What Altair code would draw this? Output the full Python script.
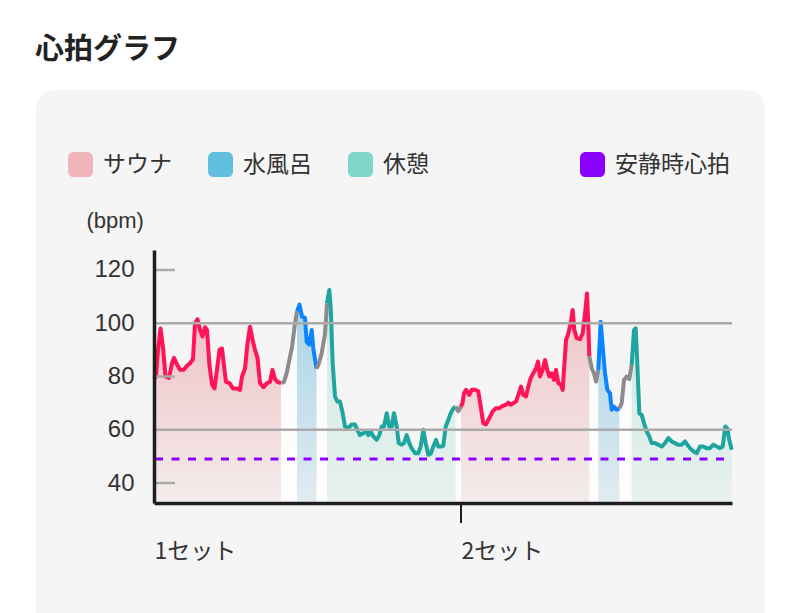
import altair as alt
import pandas as pd

# ---- data -----------------------------------------------------------------
# elapsed time (arbitrary units) and heart rate samples, in order
time_t = [
    0, 2, 4, 6.5, 9, 11.5, 15, 18, 20, 23, 26, 29.5, 33, 36, 39, 41, 43.5, 46, 48.5, 51,
    53, 55.5, 58, 60.5, 63, 65.5, 68, 70, 72, 75.5, 79, 83, 86, 88, 91, 93.5, 96, 98.5,
    101, 103.5, 106, 109.5, 113, 116, 118.5, 121, 123.5, 127,
    130, 132.5, 135, 138, 141, 143,
    145.5, 148, 151, 152.7, 155.3, 157.7, 159.3, 162.5,
    164.5, 167.7, 171, 173,
    175.3, 176.7, 178.7, 181, 183.3, 186, 188.7, 191, 194.3, 197.7, 201, 203.3, 206, 209.3,
    212, 214.3, 216.7, 219.3, 222.7, 225.3, 227.7, 230, 232.7, 235.3, 237.7, 240, 242.7,
    244.7, 247.7, 250, 252.7, 255.3, 257.7, 261, 264.3, 266.7, 269.3, 271.7, 274.3, 276.7,
    279.3, 282, 284.3, 286.7, 289.3, 291.7, 294.3, 296.7, 299.3, 301.5,
    304.3, 307,
    308.5, 310, 312, 315.3, 317.7, 321, 324.3, 326.7, 329.3, 332, 335.3, 338.7, 342, 345.3,
    348.7, 352, 354.3, 356.7, 359.3, 362, 364.3, 367, 369.3, 372, 374.3, 376.7, 379.3, 382,
    384, 386, 388.7, 391, 393.3, 395.3, 397.7, 400, 402, 404.3, 406.7, 408.7, 410, 412,
    414.3, 416.7, 418.7, 420.3, 422.7, 426, 428.7, 431, 433, 434.5, 435.3,
    437.7, 440, 442, 444.3,
    446.7, 448.7, 451, 453.3, 456, 457.7, 460, 462.7, 465.3,
    467.7, 470, 472.7, 475.3, 477.7,
    480, 481.7, 483.3, 485.3, 487.7, 490, 492.7, 495.3, 497.7, 501, 504.3, 507.7, 511,
    514.3, 517.7, 521, 524.3, 527.7, 531, 533.3, 536, 539.3, 542.7, 546, 549.3, 552.7,
    556, 559.3, 562.7, 566, 568.7, 571.3, 573.3, 575.3, 577.7,
]
bpm = [
    79, 80, 90, 98, 91, 80, 79.5, 85, 87, 84.5, 82.5, 82.5, 84, 85, 86.5, 100, 101.5, 97.5, 95, 98.5,
    97.5, 84, 77, 75.5, 82.5, 90, 90.5, 84, 78, 77.5, 75.5, 75.5, 75, 80, 83, 92.5, 98.7, 94,
    90, 87, 77.5, 76, 77.5, 78, 82.5, 79, 78, 77.5,
    78, 81, 85.5, 91, 100, 104.5,
    107, 102.5, 102, 93, 92, 97.5, 90.5, 83,
    84.5, 88.7, 96, 107.5,
    112.5, 106, 85, 72.5, 70.6, 70.6, 66.2, 61.2, 60.6, 62, 62, 60, 58, 58.7,
    59.4, 58, 59.4, 57.5, 56.2, 58, 61.2, 61.2, 66.2, 61.2, 61.2, 66.2, 61.2,
    55, 54.4, 55, 58, 55, 53, 51.2, 51.2, 53.7, 60, 55, 50.6, 51,
    53.7, 56.2, 53.7, 53.7, 54, 61.2, 63.7, 66.2, 68, 68.7,
    67, 68.7,
    70, 73.7, 75, 73.1, 75, 75, 74.4, 68.7, 62.5, 62, 64.4, 66.9, 68.1, 68.1,
    69, 69.4, 70.2, 69.4, 70, 70.6, 73.1, 76.2, 73.1, 72.5, 76.2, 79.4, 81.2, 83.1,
    85.6, 80, 82.5, 86.2, 82.5, 80, 81.2, 78.7, 82.5, 77.5, 77, 75, 82.5, 93.7,
    96.2, 100, 105, 97.5, 94.4, 94, 96.2, 103.7, 111.2, 97.5, 87.5,
    83.1, 81.2, 78.1, 82.5,
    100.6, 91.2, 81.2, 75, 73.7, 67.5, 68.7, 67.5, 68,
    70, 78.7, 80, 79, 84.4,
    97.5, 98.1, 85, 66.2, 65.6, 62.5, 59.4, 57.5, 55, 55, 54.4, 53.7, 55,
    56.9, 55.6, 55, 54.4, 54.4, 55.6, 54.4, 53.1, 51.9, 51.2, 53.7, 53.7, 53.1,
    53.1, 54.4, 53.7, 53.1, 53.7, 61.2, 60.5, 56.2, 52.5,
]
# phase of each stretch and the time at which it ends
phase_seq = ["sauna", "move", "cold", "move", "rest", "move",
             "sauna", "move", "cold", "move", "rest"]
phase_end = [127, 143, 162.5, 173, 301.5, 307, 435.3, 444.3, 465.3, 477.7, 577.7]

set_ticks = [0, 307]
set_labels = ["1セット", "2セット"]
resting_hr = [49]
grid_values = [60, 100]
minor_values = [40, 80, 120]
y_ticks = [40, 60, 80, 100, 120]
Y_MIN, Y_MAX = 32.5, 127.5
T_MAX = 578

legend_labels = ["サウナ", "水風呂", "休憩"]
legend_colors = ["#efb5b9", "#63bfde", "#7fd8c9"]
rest_label = ["安静時心拍"]
rest_color = ["#8a00ff"]

line_colors = {"sauna": "#ff1457", "move": "#8c8c8c", "cold": "#0a84ff", "rest": "#1fa5a0"}
area_stops = {
    "sauna": ("#efc3c6", "#f4ecec"),
    "cold": ("#a9d4e7", "#e2ecf1"),
    "rest": ("#cde9e4", "#e8f1ef"),
    "move": ("#fbfbfb", "#fdfdfd"),
}

# ---- build segment table (each segment starts at previous segment's last point)
rows = []
seg = 0
prev = None
for ph, end in zip(phase_seq, phase_end):
    if prev is not None:
        rows.append({"t": prev[0], "bpm": prev[1], "seg": seg, "phase": ph})
    for tt, bb in zip(time_t, bpm):
        if (seg == 0 and tt <= end) or (seg > 0 and phase_end[seg - 1] < tt <= end):
            rows.append({"t": tt, "bpm": bb, "seg": seg, "phase": ph})
            prev = (tt, bb)
    seg += 1
df = pd.DataFrame(rows)
df["base"] = Y_MIN

FONT_JP = "Noto Sans CJK JP"
FONT_NUM = "Liberation Sans"

label_expr = " : ".join(
    f"datum.value == {v} ? '{l}'" for v, l in zip(set_ticks[:-1], set_labels[:-1])
) + f" : '{set_labels[-1]}'"

x_enc = alt.X(
    "t:Q",
    scale=alt.Scale(domain=[0, T_MAX], nice=False, zero=False),
    axis=alt.Axis(
        values=set_ticks, labelExpr=label_expr, ticks=False, grid=False, title=None,
        domainColor="#1e1e1e", domainWidth=3.5, labelFont=FONT_JP, labelFontSize=23,
        labelColor="#333333", labelAlign="left", labelBaseline="middle", labelPadding=48,
        labelFlush=False, labelOverlap=False, zindex=2,
    ),
)
y_enc = alt.Y(
    "bpm:Q",
    stack=None,
    scale=alt.Scale(domain=[Y_MIN, Y_MAX], nice=False, zero=False),
    axis=alt.Axis(
        values=y_ticks, ticks=False, grid=False, domainColor="#1e1e1e", domainWidth=3.5,
        labelFont=FONT_NUM, labelFontSize=24, labelColor="#333333", labelPadding=20,
        title="(bpm)", titleAngle=0, titleAlign="left", titleBaseline="middle",
        titleX=-68, titleY=-30, titleFont=FONT_NUM, titleFontSize=22,
        titleFontWeight="normal", titleColor="#333333", zindex=2,
    ),
)

one = pd.DataFrame({"k": [0]})

panel = alt.Chart(one).mark_rect(color="#f5f5f5", cornerRadius=18).encode(
    x=alt.value(-118), x2=alt.value(611), y=alt.value(-160), y2=alt.value(420)
)
title = alt.Chart(one).mark_text(
    text="心拍グラフ", font=FONT_JP, fontSize=29, fontWeight="bold", color="#222222",
    align="left", baseline="middle",
).encode(x=alt.value(-119), y=alt.value(-200))

areas = []
for ph in ["move", "sauna", "cold", "rest"]:
    c0, c1 = area_stops[ph]
    grad = alt.Gradient(
        gradient="linear",
        stops=[alt.GradientStop(color=c0, offset=0), alt.GradientStop(color=c1, offset=1)],
        x1=0, x2=0, y1=0, y2=1,
    )
    areas.append(
        alt.Chart(df[df.phase == ph]).mark_area(color=grad).encode(
            x=x_enc, y=y_enc, y2="base:Q", detail="seg:N"
        )
    )

lines = alt.Chart(df).mark_line(strokeWidth=4, strokeJoin="round").encode(
    x=x_enc, y=y_enc,
    color=alt.Color("phase:N", scale=alt.Scale(domain=list(line_colors.keys()),
                                               range=list(line_colors.values())), legend=None),
    detail="seg:N", order="t:Q",
)

grid = alt.Chart(pd.DataFrame({"bpm": grid_values})).mark_rule(
    color="#aaaaaa", strokeWidth=2.5
).encode(y=y_enc, x=alt.value(0), x2=alt.value(T_MAX))
minor = alt.Chart(pd.DataFrame({"bpm": minor_values})).mark_rule(
    color="#aaaaaa", strokeWidth=2.5
).encode(y=y_enc, x=alt.value(0), x2=alt.value(21))

rest_line = alt.Chart(pd.DataFrame({"bpm": resting_hr})).mark_rule(
    color=rest_color[0], strokeWidth=3, strokeDash=[8, 8.5]
).encode(y=y_enc, x=alt.value(1), x2=alt.value(T_MAX))

set_tick = alt.Chart(pd.DataFrame({"t": set_ticks[1:]})).mark_rule(
    color="#1e1e1e", strokeWidth=2
).encode(x=x_enc, y=alt.value(254), y2=alt.value(273))

RR = ("M-0.55,-1H0.55A0.45,0.45,0,0,1,1,-0.55V0.55A0.45,0.45,0,0,1,0.55,1"
      "H-0.55A0.45,0.45,0,0,1,-1,0.55V-0.55A0.45,0.45,0,0,1,-0.55,-1Z")


def legend_layer(labels, colors, lx):
    return alt.Chart(pd.DataFrame({"lab": labels})).mark_point(
        filled=True, size=0, opacity=0
    ).encode(
        fill=alt.Fill(
            "lab:N",
            scale=alt.Scale(domain=labels, range=colors),
            sort=labels,
            legend=alt.Legend(
                title=None, orient="none", legendX=lx, legendY=-98, direction="horizontal",
                symbolType=RR, symbolSize=625, symbolStrokeWidth=0, symbolOpacity=1,
                labelFont=FONT_JP, labelFontSize=23, labelColor="#333333", labelOffset=10,
                columnPadding=36, labelLimit=300,
            ),
        )
    )


leg1 = legend_layer(legend_labels, legend_colors, -86)
leg2 = legend_layer(rest_label, rest_color, 426)

chart = alt.layer(
    panel, title, *areas, lines, grid, minor, rest_line, set_tick, leg1, leg2
).resolve_scale(fill="independent").properties(
    width=578, height=253,
    autosize=alt.AutoSizeParams(type="none"),
    padding={"left": 154, "top": 250, "right": 68, "bottom": 110},
    background="white",
).configure_view(stroke=None)

chart.save("out.html", embed_options={"renderer": "svg", "actions": False})
